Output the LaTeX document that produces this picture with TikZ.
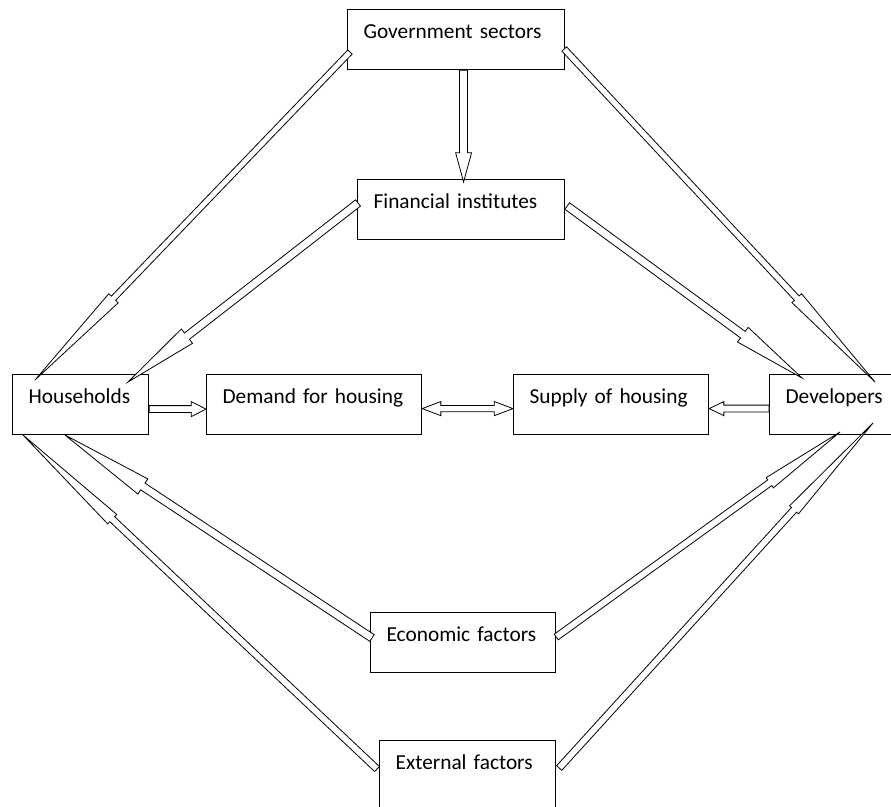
\documentclass[tikz,border=0pt]{standalone}
\usepackage{fontspec}
\setmainfont{Carlito}
\usepackage{tikz}
\usetikzlibrary{calc}

\tikzset{
  box/.style={draw, line width=0.9pt, anchor=north west, align=left,
    inner xsep=12pt, inner ysep=0pt, text height=21.75pt, text depth=23.25pt,
    font=\fontsize{16}{19}\selectfont},
  % hollow block arrow: {shaft half width}{head half width}{head length}
  blk/.style n args={3}{draw, fill=white, line width=0.6pt,
    to path={
      ($(\tikztotarget)!#3!(\tikztostart)$) coordinate (blkn)
      ($(\tikztostart)!#1!90:(\tikztotarget)$)
      -- ($(blkn)!#1!90:(\tikztotarget)$)
      -- ($(blkn)!#2!90:(\tikztotarget)$)
      -- (\tikztotarget)
      -- ($(blkn)!#2!-90:(\tikztotarget)$)
      -- ($(blkn)!#1!-90:(\tikztotarget)$)
      -- ($(\tikztostart)!#1!-90:(\tikztotarget)$)
      -- cycle}},
  % same, with a head at both ends
  dblk/.style n args={3}{draw, fill=white, line width=0.6pt,
    to path={
      ($(\tikztostart)!#3!(\tikztotarget)$) coordinate (blka)
      ($(\tikztotarget)!#3!(\tikztostart)$) coordinate (blkn)
      (\tikztostart)
      -- ($(blka)!#2!90:(\tikztotarget)$)
      -- ($(blka)!#1!90:(\tikztotarget)$)
      -- ($(blkn)!#1!90:(\tikztotarget)$)
      -- ($(blkn)!#2!90:(\tikztotarget)$)
      -- (\tikztotarget)
      -- ($(blkn)!#2!-90:(\tikztotarget)$)
      -- ($(blkn)!#1!-90:(\tikztotarget)$)
      -- ($(blka)!#1!-90:(\tikztotarget)$)
      -- ($(blka)!#2!-90:(\tikztotarget)$)
      -- cycle}},
}

\begin{document}
\begin{tikzpicture}[x=0.75pt,y=-0.75pt]
  \useasboundingbox (0,0) rectangle (891,806);
  \clip (0,0) rectangle (891,806);

  % boxes
  \node[box, text width=138.75pt] (gov) at (347,9) {Government sectors};
  \node[box, text width=131.25pt] (fin) at (357,179) {Financial institutes};
  \node[box, text width=78pt] (hh) at (12,374) {Households};
  \node[box, text width=137.25pt] (dem) at (206,374) {Demand for housing};
  \node[box, text width=122.25pt] (sup) at (513,374) {Supply of housing};
  \node[box, text width=78pt] (dev) at (769,374) {Developers};
  \node[box, text width=114.75pt] (eco) at (370,612) {Economic factors};
  \node[box, text width=108pt, text depth=30pt] (ext) at (379,740) {External factors};

  % arrows from the top
  \draw[blk={2.25pt}{4.9pt}{85pt}] ([shift={(3,43)}]gov.north west) to ([shift={(23,6)}]hh.north west);
  \draw[blk={2.4pt}{4.9pt}{86pt}] ([shift={(-1,40)}]gov.north east) to ([shift={(106,8)}]dev.north west);
  \draw[blk={3pt}{6pt}{22pt}] ([xshift=5.6pt]gov.south) to ([shift={(2.5,3)}]fin.north);
  \draw[blk={3pt}{6.8pt}{56pt}] ([shift={(1,24)}]fin.north west) to ([shift={(116,8)}]hh.north west);
  \draw[blk={3pt}{6.8pt}{55pt}] ([shift={(2,27)}]fin.north east) to ([shift={(33,4)}]dev.north west);

  % middle row
  \draw[blk={2.6pt}{5.6pt}{11pt}] ([shift={(0,4.5)}]hh.east) to ([shift={(0,4.5)}]dem.west);
  \draw[dblk={2.3pt}{5.3pt}{14pt}] ([shift={(0,4)}]dem.east) to ([shift={(0,4)}]sup.west);
  \draw[blk={2.6pt}{5.3pt}{11pt}] ([shift={(0,4)}]dev.west) to ([shift={(0,4)}]sup.east);

  % arrows from the bottom
  \draw[blk={3pt}{6.8pt}{70pt}] ([shift={(2,26)}]eco.north west) to ([shift={(53,61)}]hh.north west);
  \draw[blk={2.6pt}{4.9pt}{92pt}] ([shift={(-2,29)}]ext.north west) to ([shift={(11,61)}]hh.north west);
  \draw[blk={2.6pt}{4.7pt}{65pt}] ([shift={(0,25)}]eco.north east) to ([shift={(71,58)}]dev.north west);
  \draw[blk={2.6pt}{4.5pt}{88pt}] ([shift={(3,28)}]ext.north east) to ([shift={(104,49)}]dev.north west);
\end{tikzpicture}
\end{document}
